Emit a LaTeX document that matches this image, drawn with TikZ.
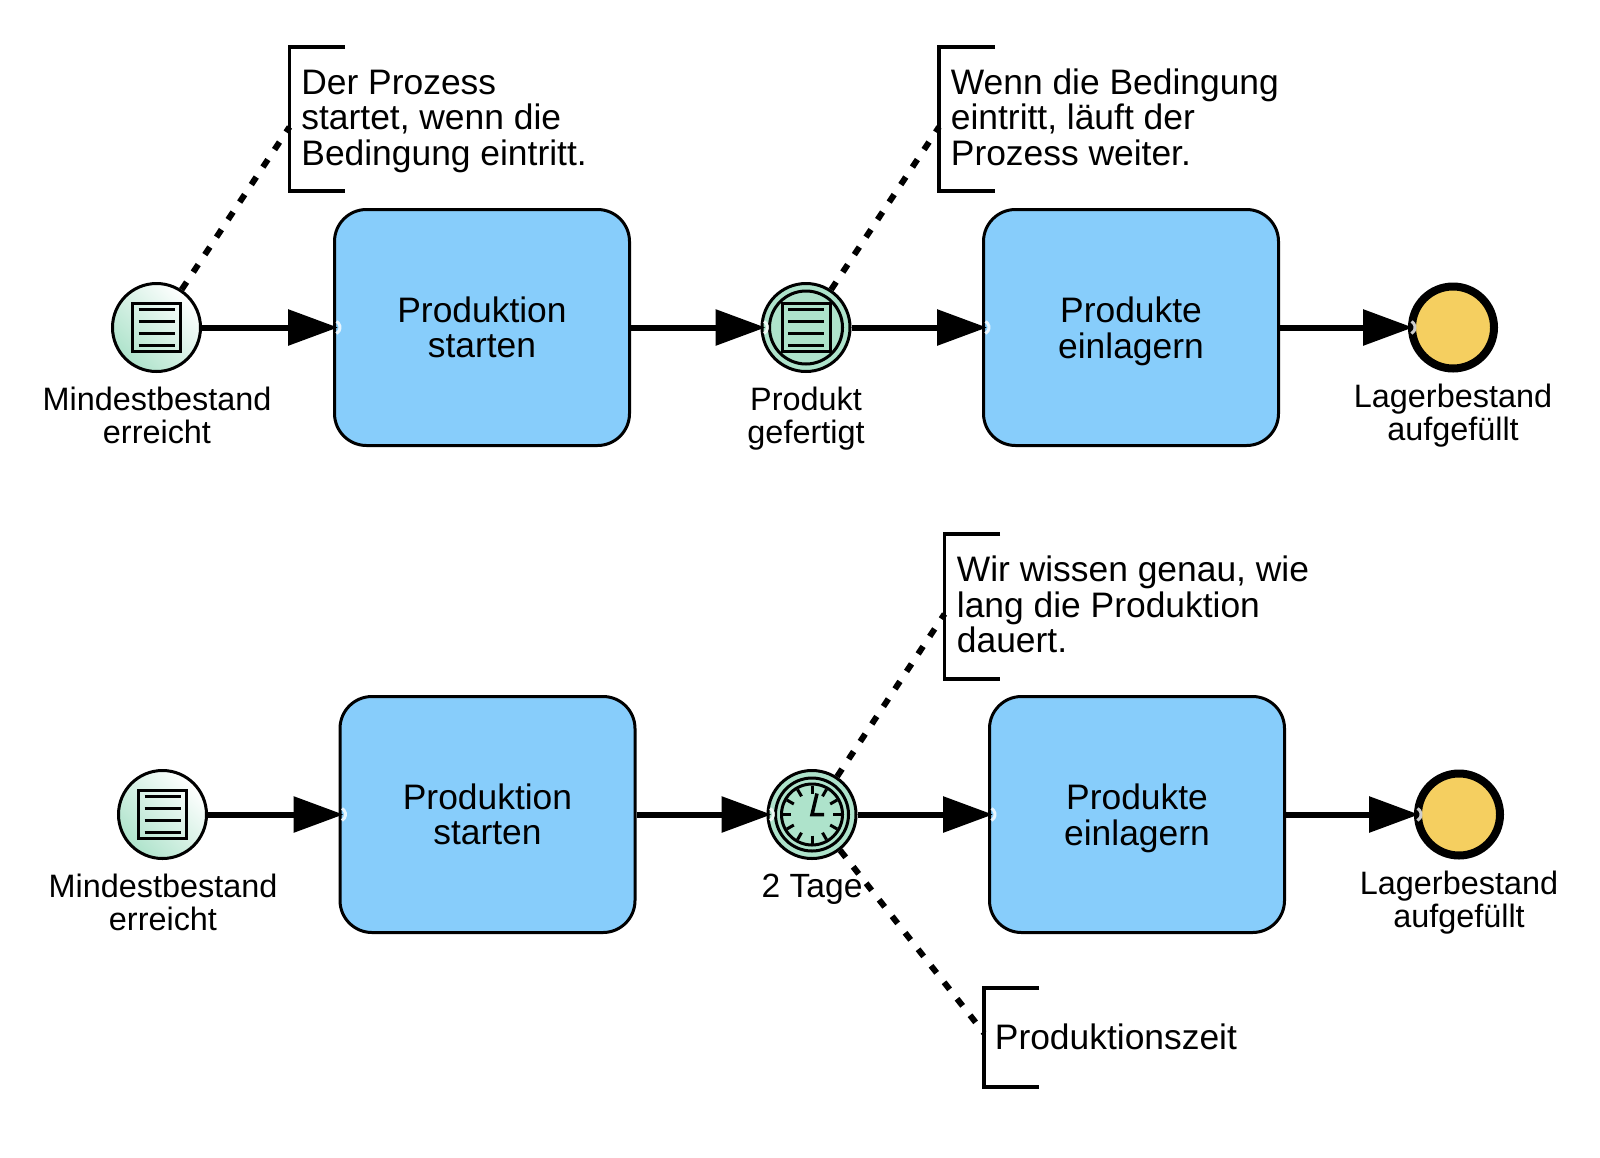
\documentclass[tikz,border=0pt]{standalone}
\usepackage{fontspec}
\setmainfont{Liberation Sans}
\usetikzlibrary{arrows.meta}
\definecolor{taskblue}{HTML}{87CDFB}
\definecolor{eventgreen}{HTML}{AEE3CB}
\definecolor{endyellow}{HTML}{F5CF60}
\tikzset{
  taskbox/.style={draw,line width=1.5pt,fill=taskblue,rounded corners=16pt,minimum width=147.5pt,minimum height=118pt,inner sep=0pt,align=center,font=\fontsize{17.7pt}{17.75pt}\selectfont},
  startevent/.style={circle,draw,line width=1.5pt,left color=white,right color=eventgreen,shading angle=-45,minimum size=44pt,inner sep=0pt},
  midevent/.style={circle,draw,line width=1.5pt,fill=eventgreen,minimum size=44pt,inner sep=0pt},
  endevent/.style={circle,draw,line width=4pt,fill=endyellow,minimum size=41pt,inner sep=0pt},
  evlabel/.style={align=center,inner sep=0pt,anchor=base,font=\fontsize{16.2pt}{16.4pt}\selectfont},
  notetext/.style={align=left,inner sep=0pt,anchor=base west,font=\fontsize{17.7pt}{17.75pt}\selectfont},
  flow/.style={line width=3pt,shorten >=-2.5pt,-{Triangle[length=25pt,width=17.5pt]}},
  assoc/.style={line width=3pt,dash pattern=on 4.5pt off 6pt},
  bracket/.style={line width=1.75pt},
  tipmark/.style={white,opacity=.8,line width=1.5pt},
  iconline/.style={line width=1.5pt}
}
\newcommand{\docicon}[1]{\begin{scope}[shift={(#1)}]
\draw[iconline] (-24,-24) rectangle (24,24);
\foreach \y in {-18,-6,6,18}\draw[iconline] (-18,\y)--(18,\y);
\end{scope}}
\begin{document}
\begin{tikzpicture}[x=.5pt,y=-.5pt]
\useasboundingbox (0,0) rectangle (1600,1157);
\node[startevent] (start1) at (156.5,327.5) {};
\node[taskbox] (task1) at (482,327.5) {Produktion\\starten};
\node[midevent] (prod1) at (806,327.5) {};
\node[taskbox] (task2) at (1131,327.5) {Produkte\\\smash{einlagern}};
\node[endevent] (end1) at (1453,327.5) {};
\node[evlabel] (lab1) at (157,443) {Mindestbestand\\erreicht};
\node[evlabel] (lab2) at (806,443) {Produkt\\gefertigt};
\node[evlabel] (lab3) at (1453,440) {Lagerbestand\\aufgefüllt};
\docicon{start1}
\draw[iconline] (prod1) circle (18.25pt);
\docicon{prod1}
\node[notetext] (note1) at (301,165) {Der Prozess\\startet, wenn die\\Bedingung eintritt.};
\node[notetext] (note2) at (950.5,165) {Wenn die Bedingung\\eintritt, läuft der\\Prozess weiter.};
\draw[bracket] (345,47) -| (289.5,191) -- (345,191);
\draw[bracket] (995,47) -| (939,191) -- (995,191);
\coordinate (hook1) at (289.5,127);
\coordinate (hook2) at (939,127);
\draw[assoc] (start1) -- (hook1);
\draw[assoc] (prod1) -- (hook2);
\draw[flow] (start1) -- (task1);
\draw[flow] (task1) -- (prod1);
\draw[flow] (prod1) -- (task2);
\draw[flow] (task2) -- (end1);
\node[startevent] (start2) at (162.5,814.5) {};
\node[taskbox] (task3) at (487.5,814.5) {Produktion\\starten};
\node[midevent] (timer1) at (812,814.5) {};
\node[taskbox] (task4) at (1137,814.5) {Produkte\\\smash{einlagern}};
\node[endevent] (end2) at (1459,814.5) {};
\node[evlabel] (lab4) at (163,930) {Mindestbestand\\erreicht};
\node[evlabel,font=\fontsize{16.8pt}{16.8pt}\selectfont] (lab5) at (812,897) {2 Tage};
\node[evlabel] (lab6) at (1459,927) {Lagerbestand\\aufgefüllt};
\docicon{start2}
\begin{scope}[shift={(timer1)}]
\draw[iconline] (0,0) circle (18.25pt) (0,0) circle (15.25pt);
\foreach \a in {0,30,...,330}\draw[iconline] (\a:21) -- (\a:29);
\draw[line width=1.75pt] (5,-21) -- (0,0) -- (12,0);
\end{scope}
\node[notetext] (note3) at (956.5,652.5) {Wir wissen genau, wie\\lang die Produktion\\dauert.};
\node[notetext] (note4) at (994.5,1049) {Produktionszeit};
\draw[bracket] (1000,534) -| (944.5,679) -- (1000,679);
\draw[bracket] (1039,988) -| (984,1087) -- (1039,1087);
\coordinate (hook3) at (944.5,614);
\coordinate (hook4) at (984,1033);
\draw[assoc] (timer1) -- (hook3);
\draw[assoc] (timer1) -- (hook4);
\draw[flow] (start2) -- (task3);
\draw[flow] (task3) -- (timer1);
\draw[flow] (timer1) -- (task4);
\draw[flow] (task4) -- (end2);
\foreach \n in {task1,prod1,task2,end1,task3,timer1,task4,end2}\draw[tipmark] (\n.west) ++(-60:7) arc[start angle=-60,end angle=60,radius=7];
\end{tikzpicture}
\end{document}
